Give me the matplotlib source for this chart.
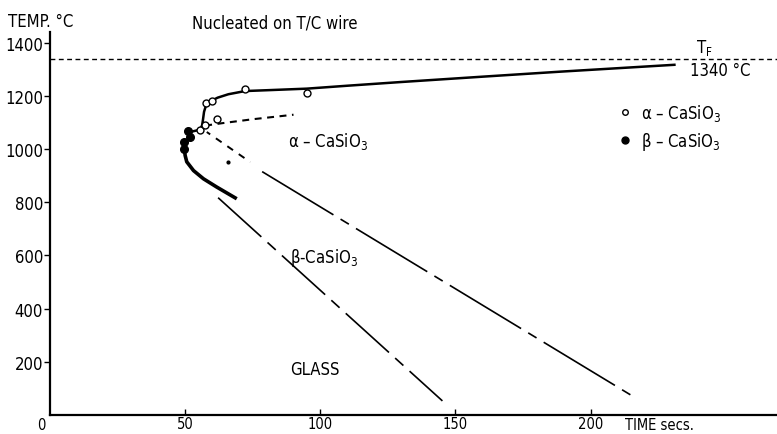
import matplotlib
matplotlib.use("Agg")
import matplotlib.pyplot as plt
from matplotlib.lines import Line2D
from matplotlib import font_manager as fm

# pick a narrow lettering face if one is installed
entries = fm.fontManager.ttflist
has_dv_cond = any(f.name == 'DejaVu Sans' and 'condensed' in str(f.stretch) for f in entries)
has_lib_narrow = any(f.name == 'Liberation Sans Narrow' for f in entries)
if has_dv_cond:
    FAMILY, STRETCH, FS = 'DejaVu Sans', 'condensed', 12
elif has_lib_narrow:
    FAMILY, STRETCH, FS = 'Liberation Sans Narrow', 'normal', 13
else:
    FAMILY, STRETCH, FS = 'DejaVu Sans', 'normal', 11

plt.rcParams['font.family'] = [FAMILY, 'DejaVu Sans']
plt.rcParams['font.stretch'] = STRETCH
plt.rcParams['mathtext.fontset'] = 'custom'
plt.rcParams['mathtext.rm'] = FAMILY
plt.rcParams['mathtext.it'] = FAMILY
plt.rcParams['lines.scale_dashes'] = False

# ---------------- data ----------------
# solid alpha-CaSiO3 start curve (upper branch)
alpha_curve_t = [51.0, 55.6, 56.3, 56.6, 57.0, 57.7, 59.5, 62.0, 66.0, 72.2, 80.0, 95.0, 110.0, 130.0, 160.0, 189.0, 231.5]
alpha_curve_T = [1062, 1073, 1090, 1110, 1140, 1163, 1180, 1193, 1206, 1218, 1221, 1227, 1238, 1252, 1272, 1291, 1317]

# short-dashed curve to the right of the nose
dash_curve_t = [57.4, 63.6, 75.0, 90.1]
dash_curve_T = [1088, 1097, 1112, 1129]

# lower solid (thick) branch below the beta points
beta_curve_t = [49.7, 50.0, 50.6, 53.1, 56.8, 61.7, 69.1]
beta_curve_T = [1001, 976, 952, 919, 888, 857, 813]

# alpha/beta boundary: short-dashed upper part, long-dashed straight part
ab_short_t = [58.0, 74.1]
ab_short_T = [1064, 951]
ab_long_t = [78.5, 216.7]
ab_long_T = [915, 64]

# beta / glass boundary
glass_t = [62.2, 145.2]
glass_T = [817, 53]

# measured points
alpha_pts_t = [55.6, 57.4, 61.7, 57.7, 60.1, 72.2, 95.2]
alpha_pts_T = [1073, 1089, 1114, 1173, 1179, 1224, 1212]
beta_pts_t = [51.0, 51.9, 49.6, 49.7]
beta_pts_T = [1066, 1045, 1026, 1001]
stray_dot_t = [65.9]
stray_dot_T = [952]

T_F = 1340
xticks = [50, 100, 150, 200]
yticks = [200, 400, 600, 800, 1000, 1200, 1400]

# ---------------- figure ----------------
W, H = 777, 435
fig = plt.figure(figsize=(W / 100, H / 100), dpi=100)
ax = fig.add_axes([50 / W, 19 / H, 727 / W, 383 / H])
ax.set_xlim(0, 269)
ax.set_ylim(0, 1440)

for s in ['top', 'right']:
    ax.spines[s].set_visible(False)
for s in ['left', 'bottom']:
    ax.spines[s].set_linewidth(1.6)

ax.axhline(T_F, color='k', lw=1.0, ls=(0, (3.5, 2.5)))

ax.plot(alpha_curve_t, alpha_curve_T, color='k', lw=1.8, solid_capstyle='butt')
ax.plot(dash_curve_t, dash_curve_T, color='k', lw=1.5, ls=(0, (5, 4)))
ax.plot(beta_curve_t, beta_curve_T, color='k', lw=2.6, solid_capstyle='butt')
ax.plot(ab_short_t, ab_short_T, color='k', lw=1.4, ls=(2, (5, 5)))
ax.plot(ab_long_t, ab_long_T, color='k', lw=1.2, ls=(0, (60, 6, 7, 6)))
ax.plot(glass_t, glass_T, color='k', lw=1.2, ls=(0, (42, 6, 8, 6)))

ax.plot(alpha_pts_t, alpha_pts_T, 'o', ms=5, mfc='white', mec='k', mew=1.0, zorder=5)
ax.plot(beta_pts_t, beta_pts_T, 'o', ms=5.5, mfc='k', mec='k', zorder=5)
ax.plot(stray_dot_t, stray_dot_T, 'o', ms=2, color='k')

XFS = FS - 1.5
ax.set_xticks(xticks)
ax.set_yticks(yticks)
ax.tick_params(axis='x', direction='in', length=4, width=1, pad=0.5, labelsize=XFS)
ax.tick_params(axis='y', direction='out', length=4, width=1, pad=1, labelsize=FS)

fs = FS
fig.text(8 / W, 1 - 22 / H, 'TEMP. °C', fontsize=fs, va='center', ha='left')
fig.text(192 / W, 1 - 23 / H, 'Nucleated on T/C wire', fontsize=fs, va='center', ha='left')
fig.text(41 / W, 1 - 426 / H, '0', fontsize=XFS, va='center', ha='center')
fig.text(625 / W, 1 - 426 / H, 'TIME secs.', fontsize=XFS, va='center', ha='left')
fig.text(696 / W, 1 - 48 / H, r'T$_{\rm F}$', fontsize=fs, va='center', ha='left')
fig.text(690 / W, 1 - 71 / H, '1340 °C', fontsize=fs, va='center', ha='left')
fig.text(288 / W, 1 - 141 / H, r'α – CaSiO$_3$', fontsize=fs, va='center', ha='left')
fig.text(290 / W, 1 - 258 / H, r'β-CaSiO$_3$', fontsize=fs, va='center', ha='left')
fig.text(290 / W, 1 - 370 / H, 'GLASS', fontsize=fs, va='center', ha='left')

handles = [Line2D([], [], ls='none', marker='o', ms=4, mfc='white', mec='k', mew=1.0),
           Line2D([], [], ls='none', marker='o', ms=5, mfc='k', mec='k')]
labels = [r'α – CaSiO$_3$', r'β – CaSiO$_3$']
ax.legend(handles, labels, loc='upper left', bbox_to_anchor=(618 / W, 1 - 103 / H),
          bbox_transform=fig.transFigure, frameon=False, fontsize=fs,
          handlelength=0.8, handletextpad=0.6, borderpad=0, borderaxespad=0,
          labelspacing=0.42)

fig.savefig('out.png', dpi=100)
